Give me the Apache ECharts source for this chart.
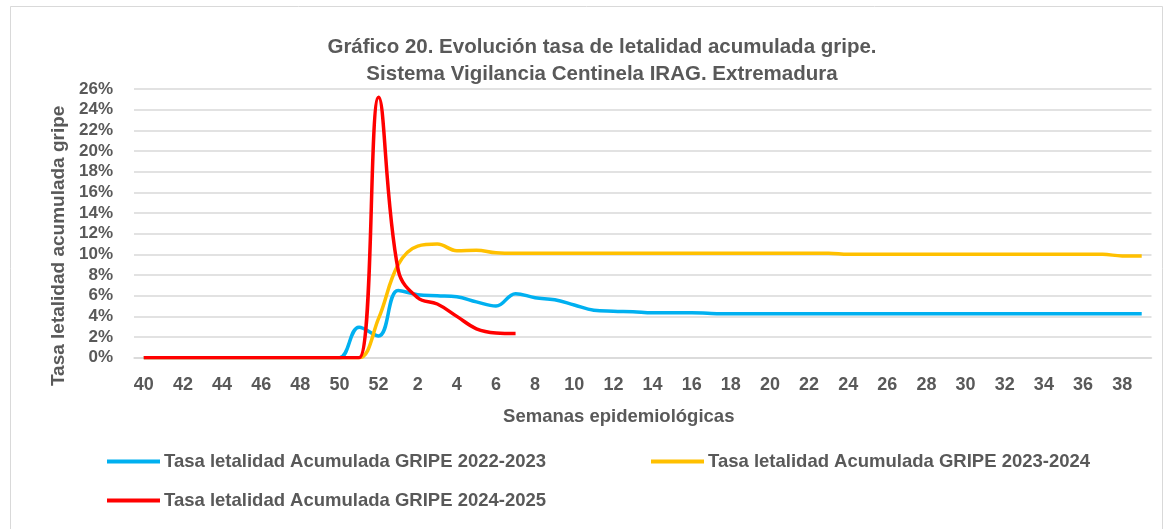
<!DOCTYPE html>
<html>
<head>
<meta charset="utf-8">
<script src="https://cdn.jsdelivr.net/npm/echarts@6/dist/echarts.min.js"></script>
<style>html,body{margin:0;padding:0;background:#fff;}#c{width:1173px;height:529px;}</style>
</head>
<body>
<div id="c"></div>
<script>
const weeks = [40,41,42,43,44,45,46,47,48,49,50,51,52,1,2,3,4,5,6,7,8,9,10,11,12,13,14,15,16,17,18,19,20,21,22,23,24,25,26,27,28,29,30,31,32,33,34,35,36,37,38,39];
const s2223 = [0,0,0,0,0,0,0,0,0,0,0,2.95,2.1,
  6.5,6.1,6.0,5.9,5.4,5.0,6.2,5.8,5.6,5.1,4.6,4.5,4.45,4.35,4.35,4.35,4.28,4.25,4.25,4.25,4.25,4.25,4.25,4.25,4.25,4.25,4.25,4.25,4.25,4.25,4.25,4.25,4.25,4.25,4.25,4.25,4.25,4.25,4.25];
const s2324 = [0,0,0,0,0,0,0,0,0,0,0,0,3.8,
  9.0,10.8,11.0,10.35,10.4,10.15,10.1,10.1,10.1,10.1,10.1,10.1,10.1,10.1,10.1,10.1,10.1,10.1,10.1,10.1,10.1,10.1,10.1,10.0,10.0,10.0,10.0,10.0,10.0,10.0,10.0,10.0,10.0,10.0,10.0,10.0,10.0,9.85,9.85];
const s2425 = [0,0,0,0,0,0,0,0,0,0,0,0,25.2,
  8.5,5.8,5.2,4.0,2.8,2.4,2.35];
const names = ['Tasa letalidad Acumulada GRIPE 2022-2023','Tasa letalidad Acumulada GRIPE 2023-2024','Tasa letalidad Acumulada GRIPE 2024-2025'];
const colors = ['#00B0F0','#FFC000','#FF0000'];
const FONT = 'Liberation Sans';
const txt = '#595959';
const chart = echarts.init(document.getElementById('c'), null, {renderer:'canvas'});
const legendBase = {icon:'rect', itemWidth:53, itemHeight:4, itemGap:0, padding:0, textStyle:{color:txt, fontFamily:FONT, fontWeight:'bold', fontSize:18.5, padding:[0,0,0,-1]}};
chart.setOption({
  backgroundColor:'#fff',
  animation:false,
  title:{text:'Gráfico 20. Evolución tasa de letalidad acumulada gripe.\nSistema Vigilancia Centinela IRAG. Extremadura', left:597, textAlign:'center', top:29, textStyle:{color:txt, fontFamily:FONT, fontWeight:'bold', fontSize:20.5, lineHeight:27}},
  graphic:[{type:'rect', shape:{x:10.5,y:6.5,width:1152,height:540}, style:{fill:'none', stroke:'#d9d9d9', lineWidth:1}, silent:true}],
  legend:[
    Object.assign({}, legendBase, {data:[names[0]], left:107, top:452}),
    Object.assign({}, legendBase, {data:[names[1]], left:651, top:452}),
    Object.assign({}, legendBase, {data:[names[2]], left:107, top:491})
  ],
  grid:{left:134, right:21.5, top:89, bottom:171.3, containLabel:false},
  xAxis:{type:'category', data:weeks, boundaryGap:true,
    name:'Semanas epidemiológicas', nameLocation:'middle', nameGap:50,
    nameTextStyle:{color:txt, fontFamily:FONT, fontWeight:'bold', fontSize:18.5, padding:[0,48,0,0]},
    axisLine:{show:true, lineStyle:{color:'#d9d9d9', width:1.5}}, axisTick:{show:false},
    axisLabel:{interval:1, color:txt, fontFamily:FONT, fontWeight:'bold', fontSize:18, margin:18}},
  yAxis:{type:'value', min:0, max:26, interval:2,
    name:'Tasa letalidad acumulada gripe', nameLocation:'middle', nameGap:65, nameRotate:90,
    nameTextStyle:{color:txt, fontFamily:FONT, fontWeight:'bold', fontSize:19, padding:[0,45,0,0]},
    axisLine:{show:false}, axisTick:{show:false},
    axisLabel:{formatter:'{value}%', color:txt, fontFamily:FONT, fontWeight:'bold', fontSize:17, margin:21},
    splitLine:{lineStyle:{color:'#d9d9d9', width:1.5}}},
  series:[s2223, s2324, s2425].map((d,i)=>({
    name:names[i], type:'line', data:d, smooth:0.4, showSymbol:false, symbol:'none',
    lineStyle:{color:colors[i], width:3.5}, itemStyle:{color:colors[i]}, z:2+i
  }))
});
</script>
</body>
</html>
